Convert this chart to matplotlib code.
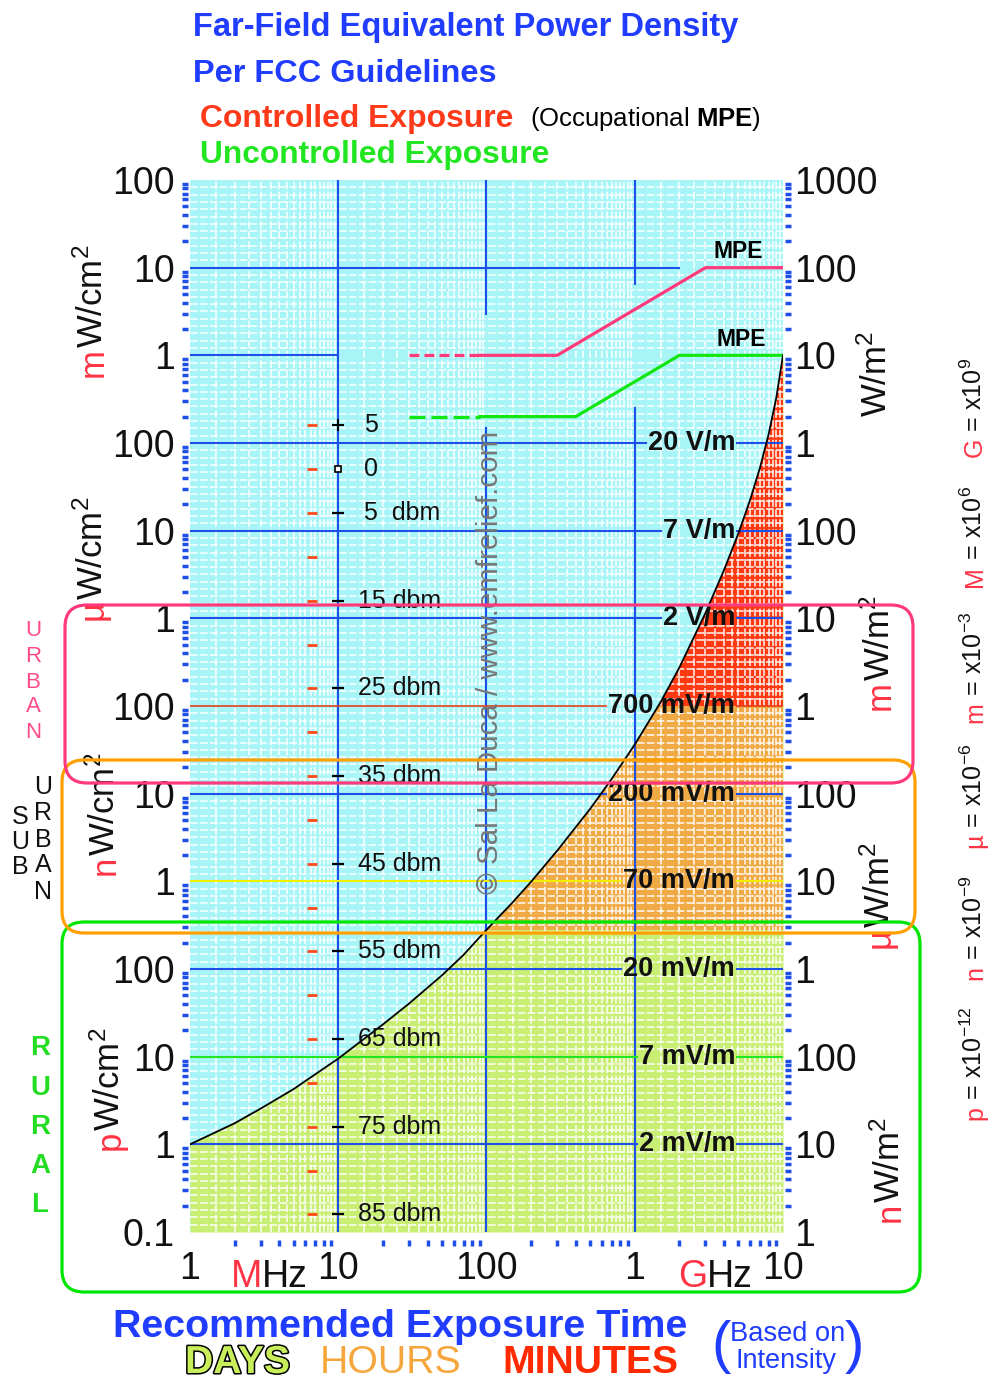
import numpy as np
import matplotlib
matplotlib.use("Agg")
import matplotlib.pyplot as plt
import matplotlib.transforms as mtransforms
import matplotlib.patheffects as pe
from matplotlib.patches import FancyBboxPatch
from matplotlib.ticker import FixedLocator, NullFormatter, NullLocator

plt.rcParams['font.family'] = ['Liberation Sans', 'DejaVu Sans']
plt.rcParams['mathtext.fontset'] = 'custom'
plt.rcParams['mathtext.rm'] = 'Liberation Sans'
plt.rcParams['mathtext.it'] = 'Liberation Sans:italic'
plt.rcParams['mathtext.bf'] = 'Liberation Sans:bold'
plt.rcParams['mathtext.default'] = 'rm'

# ---------------- data ----------------
# exposure curve (frequency in MHz, power density in mW/cm^2)
freq_mhz = [1, 2, 3, 5, 10, 20, 30, 50, 70, 100, 150, 200, 300, 500, 700, 1000,
            1500, 2000, 3000, 4000, 5000, 6000, 7000, 8000, 9000, 10000]
curve_mw_cm2 = [1.0e-9, 1.74e-9, 2.56e-9, 4.27e-9, 9.5e-9, 2.33e-8, 4.03e-8, 8.45e-8,
                1.45e-7, 2.8e-7, 5.75e-7, 9.9e-7, 2.24e-6, 6.7e-6, 1.48e-5, 3.63e-5,
                1.12e-4, 2.75e-4, 1.15e-3, 3.55e-3, 9.3e-3, 2.24e-2, 5.25e-2, 0.126,
                0.324, 1.0]

# FCC MPE limits (first segment dashed)
mpe_ctrl_f = [30, 90, 300, 3000, 10000]
mpe_ctrl_p = [1, 1, 1, 10, 10]
mpe_unc_f = [30, 90, 400, 2000, 10000]
mpe_unc_p = [0.2, 0.2, 0.2, 1, 1]

# field-strength reference lines
field_labels = ['20 V/m', '7 V/m', '2 V/m', '700 mV/m', '200 mV/m', '70 mV/m',
                '20 mV/m', '7 mV/m', '2 mV/m']
field_w_m2 = [1, 1e-1, 1e-2, 1e-3, 1e-4, 1e-5, 1e-6, 1e-7, 1e-8]
field_colors = ['#1e50e8', '#1e50e8', '#1e50e8', '#e8401a', '#1e50e8', '#f2f000',
                '#1e50e8', '#22e622', '#1e50e8']

# exposure-time bands (mW/cm^2)
minutes_above = 1e-4
hours_above = 2.8e-7

# decade guide lines
v_guides = [(10, 1e-10, 1e2), (100, 3.0, 1e2), (100, 1e-10, 0.15),
            (1000, 6.5, 1e2), (1000, 1e-10, 0.25)]
h_guides = [(10, 1, 2000), (1, 1, 10)]

# dBm scale
dbm_marks = [5, 0, -5, -10, -15, -20, -25, -30, -35, -40, -45, -50, -55, -60,
             -65, -70, -75, -80, -85]
dbm_labeled = [5, 0, -5, -15, -25, -35, -45, -55, -65, -75, -85]
DBM_REF = 13.0  # dBm at 1 mW/cm^2 equivalent

# axis tick labels
left_vals = [1e2, 1e1, 1e0, 1e-1, 1e-2, 1e-3, 1e-4, 1e-5, 1e-6, 1e-7, 1e-8, 1e-9, 1e-10]
left_labels = ['100', '10', '1', '100', '10', '1', '100', '10', '1', '100', '10', '1', '0.1']
right_vals = [1e3, 1e2, 1e1, 1e0, 1e-1, 1e-2, 1e-3, 1e-4, 1e-5, 1e-6, 1e-7, 1e-8, 1e-9]
right_labels = ['1000', '100', '10', '1', '100', '10', '1', '100', '10', '1', '100', '10', '1']
x_vals = [1, 10, 100, 1000, 10000]
x_labels = ['1', '10', '100', '1', '10']

prefix_letters = ['G', 'M', 'm', 'µ', 'n', 'p']
prefix_exps = ['9', '6', '-3', '-6', '-9', '-12']

# ---------------- styling ----------------
W, H, DPI = 995, 1382, 100
BLUE = '#1e50e8'
CYAN = '#a8f5f8'
DAYS_C = '#c8ee74'
HOURS_C = '#f0aa45'
MIN_C = '#ff3a12'
PINK = '#ff3a7a'
MPE_GREEN = '#12e612'
PRE_RED = '#ff3344'
TBLUE = '#1f3cff'

fig = plt.figure(figsize=(W / DPI, H / DPI), dpi=DPI)
fig.patch.set_facecolor('white')
renderer = fig.canvas.get_renderer()

ax = fig.add_axes([190 / W, 1 - 1232 / H, 593 / W, 1052 / H])
ax.set_xscale('log')
ax.set_yscale('log')
ax.set_xlim(1, 1e4)
ax.set_ylim(1e-10, 1e2)
ax.set_facecolor(CYAN)
for s in ax.spines.values():
    s.set_visible(False)

# fills
under = ax.fill_between(freq_mhz, 1e-10, curve_mw_cm2, color=DAYS_C, lw=0, zorder=1)
clip = under.get_paths()[0]
for lo, hi, c in [(hours_above, minutes_above, HOURS_C), (minutes_above, 1e2, MIN_C)]:
    sp = ax.axhspan(lo, hi, color=c, lw=0, zorder=1.1)
    sp.set_clip_path(clip, ax.transData)

# grid
xminor = [d * s for d in (1, 10, 100, 1000) for s in np.arange(1, 10, 0.5)]
ax.xaxis.set_minor_locator(FixedLocator(xminor))
ax.yaxis.set_minor_locator(FixedLocator(10 ** np.arange(-10, 2.0001, 1 / 12)))
ax.xaxis.set_minor_formatter(NullFormatter())
ax.yaxis.set_minor_formatter(NullFormatter())
ax.grid(which='minor', color='white', lw=1.1, ls=(0, (5, 1.5)), alpha=0.95)
ax.set_axisbelow(False)
ax.tick_params(which='minor', length=0)

# ticks
ax.set_xticks(x_vals, x_labels)
ax.set_yticks(left_vals, left_labels)
ax.tick_params(axis='x', which='major', length=0, pad=13.5, labelsize=27, labelcolor='#111111')
ax.tick_params(axis='y', which='major', length=0, pad=11, labelsize=27, labelcolor='#111111')
sec = ax.secondary_yaxis('right', functions=(lambda p: p * 10, lambda w: w / 10))
sec.set_yticks(right_vals, right_labels)
sec.yaxis.set_minor_locator(NullLocator())
sec.tick_params(length=0, pad=8, labelsize=27, labelcolor='#111111')
for s in sec.spines.values():
    s.set_visible(False)

# blue minor marks outside plot
minor_f = [d * s for d in (1, 10, 100, 1000) for s in range(2, 10)]
minor_p = [10.0 ** e * s for e in range(-10, 2) for s in range(2, 10)]
ty = mtransforms.blended_transform_factory(ax.transAxes, ax.transData)
tx = mtransforms.blended_transform_factory(ax.transData, ax.transAxes)
for xa in (-0.0084, 1.0084):
    ax.plot([xa] * len(minor_p), minor_p, transform=ty, ls='none', marker='_', ms=4,
            mew=2.5, color=BLUE, clip_on=False)
ax.plot(minor_f, [-0.0105] * len(minor_f), transform=tx, ls='none', marker='|', ms=4,
        mew=2.5, color=BLUE, clip_on=False)

# guide lines
for f, lo, hi in v_guides:
    ax.plot([f, f], [lo, hi], color=BLUE, lw=1.5, zorder=3)
for p, f0, f1 in h_guides:
    ax.plot([f0, f1], [p, p], color=BLUE, lw=1.5, zorder=3)

# field strength lines with labels
label_right_f = 4745
for lab, wm2, col in zip(field_labels, field_w_m2, field_colors):
    p = wm2 * 0.1
    t = ax.text(label_right_f, p, lab, ha='right', va='center', fontsize=19.5,
                fontweight='bold', color='#111111', zorder=6)
    bb = t.get_window_extent(renderer)
    f_left = ax.transData.inverted().transform((bb.x0 - 2, 0))[0]
    lw = 1.2 if col == '#e8401a' else 1.5
    ax.plot([1, f_left], [p, p], color=col, lw=lw, zorder=3)
    ax.plot([label_right_f * 1.035, 1e4], [p, p], color=col, lw=lw, zorder=3)

# MPE lines
for fs, ps, col, dash in [(mpe_ctrl_f, mpe_ctrl_p, PINK, (0, (3.1, 1.6))),
                          (mpe_unc_f, mpe_unc_p, MPE_GREEN, (0, (5.0, 1.9)))]:
    ax.plot(fs[:2], ps[:2], color=col, lw=2.3, ls=dash, zorder=3.5)
    ax.plot(fs[1:], ps[1:], color=col, lw=2.3, zorder=3.5)

# exposure curve
ax.plot(freq_mhz, curve_mw_cm2, color='black', lw=1.3, zorder=4)

# dBm scale
dbm_p = [10 ** ((d - DBM_REF) / 10) for d in dbm_marks]
ax.plot([6.7] * len(dbm_p), dbm_p, ls='none', marker='_', ms=7, mew=2, color='#ff4a1a', zorder=5)
for d in dbm_labeled:
    p = 10 ** ((d - DBM_REF) / 10)
    if d > 0:
        ax.plot([10], [p], marker='+', ms=8, mew=1.5, color='black', zorder=5)
    elif d == 0:
        ax.plot([10], [p], marker='s', ms=4, mew=1.2, mfc='white', mec='black', zorder=5)
    else:
        ax.plot([10], [p], marker='_', ms=8, mew=1.6, color='black', zorder=5)
    s = f"{abs(d)}"
    if d == -5:
        s += "  dbm"
    elif d < 0:
        s += " dbm"
    ax.text(15 if abs(d) < 10 else 13.6, p, s, ha='left', va='center', fontsize=18,
            color='#111111', zorder=6)

# ---------------- figure-level text helpers ----------------
def ftext(x, y, s, **kw):
    return fig.text(x / DPI, (H - y) / DPI, s, transform=fig.dpi_scale_trans, **kw)


def fit(t, target, dim='w'):
    bb = t.get_window_extent(renderer)
    cur = bb.width if dim == 'w' else bb.height
    t.set_fontsize(t.get_fontsize() * target / cur)
    return t


def rot_label(xb, y0, parts, fontsize):
    y = y0
    for s, c in parts:
        t = ftext(xb, y, s, rotation=90, rotation_mode='anchor', ha='left', va='baseline',
                  color=c, fontsize=fontsize)
        y -= t.get_window_extent(renderer).height


NARROW = ['Liberation Sans Narrow', 'Liberation Sans', 'DejaVu Sans']

# titles
fit(ftext(193, 36, "Far-Field Equivalent Power Density", color=TBLUE, fontweight='bold',
          fontsize=24, family=NARROW, va='baseline'), 547)
fit(ftext(193, 82, "Per FCC Guidelines", color=TBLUE, fontweight='bold', fontsize=24,
          family=NARROW, va='baseline'), 304)
fit(ftext(200, 127, "Controlled Exposure", color='#ff3a1a', fontweight='bold', fontsize=24,
          family=NARROW, va='baseline'), 314)
fit(ftext(530, 126, r"(Occupational $\mathbf{MPE}$)", color='black', fontsize=16,
          va='baseline'), 232)
fit(ftext(200, 163, "Uncontrolled Exposure", color='#22e622', fontweight='bold', fontsize=24,
          family=NARROW, va='baseline'), 350)

# MPE labels
ftext(738, 252, 'MPE', fontweight='bold', fontsize=16.5, ha='center', va='center')
ftext(741, 340, 'MPE', fontweight='bold', fontsize=16.5, ha='center', va='center')

# frequency unit labels
ftext(262, 1287, 'M', color=PRE_RED, fontsize=27, ha='right', va='baseline')
ftext(262, 1287, 'Hz', color='#111111', fontsize=27, ha='left', va='baseline')
ftext(707, 1287, 'G', color=PRE_RED, fontsize=27, ha='right', va='baseline')
ftext(707, 1287, 'Hz', color='#111111', fontsize=27, ha='left', va='baseline')

# unit labels
left_units = [(103, 377, 'm'), (103, 620, 'µ'), (115, 875, 'n'), (120, 1150, 'p')]
for xb, y0, pre in left_units:
    rot_label(xb, y0, [(pre, PRE_RED), ('W/cm$^2$', '#111111')], 25)
right_units = [(887, 417, ''), (890, 710, 'm'), (890, 948, 'µ'), (900, 1222, 'n')]
for xb, y0, pre in right_units:
    parts = ([(pre, PRE_RED)] if pre else []) + [('W/m$^2$', '#111111')]
    rot_label(xb, y0, parts, 25)

# prefix definitions
prefix_y = [457, 587, 723, 848, 980, 1120]
for letter, ex, y0 in zip(prefix_letters, prefix_exps, prefix_y):
    rot_label(982, y0, [(letter, PRE_RED), (' = x10$^{' + ex + '}$', '#111111')], 18)

# watermark
fit(ftext(490, 662, "© Sal La Duca / www.emfrelief.com", rotation=90, ha='center',
          va='center', fontsize=19, color='#777777'), 463, 'h')

# area letters
for ch, y in zip('URBAN', [630, 656, 682, 707, 733]):
    ftext(33, y, ch, color='#ff4a88', fontsize=16, ha='center', va='center')
for ch, y in zip('SUB', [817, 842, 867]):
    ftext(20, y, ch, color='#111111', fontsize=18, ha='center', va='center')
for ch, y in zip('URBAN', [787, 813, 840, 865, 892]):
    ftext(43, y, ch, color='#111111', fontsize=18, ha='center', va='center')
for ch, y in zip('RURAL', [1048, 1088, 1127, 1166, 1205]):
    ftext(40, y, ch, color='#22dd22', fontsize=20, fontweight='bold', ha='center', va='center')


# rounded boxes
def rbox(x0, y0, x1, y1, color):
    p = FancyBboxPatch((x0 / DPI, (H - y1) / DPI), (x1 - x0) / DPI, (y1 - y0) / DPI,
                       boxstyle='round,pad=0,rounding_size=0.22', transform=fig.dpi_scale_trans,
                       fill=False, ec=color, lw=2.3, zorder=4)
    fig.add_artist(p)


rbox(62, 922, 920, 1292, '#00e600')
rbox(62, 760, 915, 933, '#ff9f00')
rbox(65, 605, 913, 783, '#ff3a7a')

# bottom legend
fit(ftext(113, 1337, "Recommended Exposure Time", color=TBLUE, fontweight='bold', fontsize=28,
          va='baseline'), 575)
fit(ftext(185, 1373, "DAYS", color='#c8ee5a', fontweight='bold', fontsize=27, va='baseline',
          path_effects=[pe.withStroke(linewidth=2.2, foreground='black')]), 105)
fit(ftext(320, 1373, "HOURS", color='#f5a63c', fontsize=28, va='baseline'), 142)
fit(ftext(502, 1373, "MINUTES", color='#ff2a00', fontweight='bold', fontsize=28,
          va='baseline'), 176)
ftext(711, 1347, "(", color=TBLUE, fontsize=42, ha='left', va='center')
ftext(845, 1347, ")", color=TBLUE, fontsize=42, ha='left', va='center')
fit(ftext(730, 1341, "Based on", color=TBLUE, fontsize=18, va='baseline'), 115)
fit(ftext(735, 1368, "Intensity", color=TBLUE, fontsize=18, va='baseline'), 101)

fig.savefig('out.png', dpi=DPI)
